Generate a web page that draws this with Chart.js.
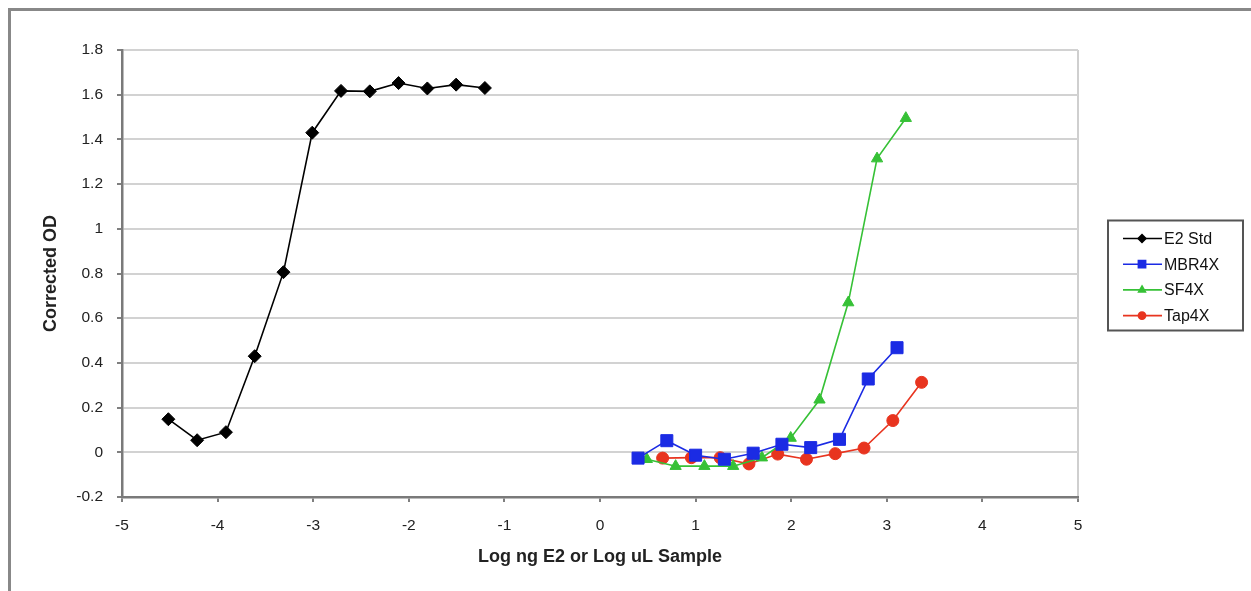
<!DOCTYPE html>
<html>
<head>
<meta charset="utf-8">
<script src="https://cdn.jsdelivr.net/npm/chart.js@4/dist/chart.umd.min.js"></script>
<style>
  html, body { margin: 0; padding: 0; background: #fff; }
  #wrap { position: relative; width: 1251px; height: 591px; }
  #frame {
    position: absolute; left: 8px; top: 8px; right: 0; bottom: 0;
    border-top: 3px solid #888; border-left: 3px solid #888;
    pointer-events: none;
  }
</style>
</head>
<body>
<div id="wrap">
  <canvas id="odChart" width="1251" height="591"></canvas>
  <div id="frame"></div>
</div>
<script>
// log dose / log volume for each series
const e2StdX = [-4.515, -4.214, -3.913, -3.612, -3.311, -3.010, -2.709, -2.408, -2.107, -1.806, -1.505, -1.204];
const e2StdY = [0.148, 0.054, 0.090, 0.430, 0.806, 1.430, 1.617, 1.615, 1.652, 1.628, 1.645, 1.630];

const mbrX = [0.398, 0.699, 1.000, 1.301, 1.602, 1.903, 2.204, 2.505, 2.806, 3.107];
const mbrY = [-0.026, 0.052, -0.013, -0.031, -0.004, 0.036, 0.021, 0.058, 0.328, 0.468];

const sfX = [0.490, 0.791, 1.092, 1.393, 1.694, 1.995, 2.296, 2.597, 2.898, 3.199];
const sfY = [-0.031, -0.062, -0.062, -0.062, -0.024, 0.064, 0.235, 0.670, 1.314, 1.495];

const tapX = [0.655, 0.956, 1.257, 1.558, 1.859, 2.160, 2.461, 2.762, 3.063, 3.364];
const tapY = [-0.026, -0.024, -0.024, -0.052, -0.008, -0.031, -0.006, 0.019, 0.142, 0.313];

const seriesNames = ['E2 Std', 'MBR4X', 'SF4X', 'Tap4X'];
const yTicks = [-0.2, 0, 0.2, 0.4, 0.6, 0.8, 1, 1.2, 1.4, 1.6, 1.8];
const xTicks = [-5, -4, -3, -2, -1, 0, 1, 2, 3, 4, 5];

const zip = (xs, ys) => xs.map((x, i) => ({ x: x, y: ys[i] }));

const FONT = '"Liberation Sans", Arial, sans-serif';

function series(label, xs, ys, color, style, radius) {
  return {
    label: label,
    data: zip(xs, ys),
    showLine: true,
    borderColor: color,
    backgroundColor: color,
    borderWidth: 1.6,
    pointStyle: style,
    pointRadius: radius,
    pointHoverRadius: radius,
    pointBorderWidth: 1,
  };
}

// boxed legend to the right of the plot, with line + marker samples
const boxLegend = {
  id: 'boxLegend',
  afterDraw(chart) {
    const ctx = chart.ctx;
    const area = chart.chartArea;
    const w = 135, h = 110;
    const left = area.right + 30;
    const top = (area.top + area.bottom) / 2 - h / 2 + 2;
    ctx.save();
    ctx.strokeStyle = '#555';
    ctx.lineWidth = 2;
    ctx.strokeRect(left, top, w, h);
    ctx.font = '16px ' + FONT;
    ctx.textBaseline = 'middle';
    chart.data.datasets.forEach((ds, i) => {
      const y = top + 18 + i * 25.7;
      ctx.strokeStyle = ds.borderColor;
      ctx.lineWidth = 1.6;
      ctx.beginPath();
      ctx.moveTo(left + 15, y);
      ctx.lineTo(left + 54, y);
      ctx.stroke();
      ctx.fillStyle = ds.backgroundColor;
      Chart.helpers.drawPoint(ctx, {
        pointStyle: ds.pointStyle,
        radius: ds.pointRadius * 0.6,
        rotation: 0,
        borderWidth: 1,
      }, left + 34, y);
      ctx.fillStyle = '#111';
      ctx.fillText(ds.label, left + 56, y + 1);
    });
    ctx.restore();
  }
};

const config = {
  type: 'scatter',
  data: {
    datasets: [
      series(seriesNames[0], e2StdX, e2StdY, '#000000', 'rectRot', 6.5),
      series(seriesNames[1], mbrX, mbrY, '#1b2be4', 'rect', 8.5),
      series(seriesNames[2], sfX, sfY, '#36c136', 'triangle', 6.5),
      series(seriesNames[3], tapX, tapY, '#e8341f', 'circle', 6),
    ]
  },
  options: {
    responsive: false,
    animation: false,
    layout: { padding: { left: 0, top: 50, right: 173, bottom: 0 } },
    plugins: {
      legend: { display: false },
      tooltip: { enabled: false },
    },
    scales: {
      x: {
        type: 'linear',
        min: xTicks[0],
        max: xTicks[xTicks.length - 1],
        afterBuildTicks: (scale) => { scale.ticks = xTicks.map(v => ({ value: v })); },
        afterFit: (scale) => { scale.height = 94; },
        border: { display: true, color: '#7a7a7a', width: 2.5 },
        grid: {
          drawOnChartArea: true,
          color: (c) => (c.tick && c.tick.value === 5 ? '#cfcfcf' : 'rgba(0,0,0,0)'),
          lineWidth: 2,
          drawTicks: true,
          tickLength: 5,
          tickColor: '#555',
          tickWidth: 1.5,
        },
        ticks: {
          padding: 14,
          color: '#222',
          font: { family: FONT, size: 15.5 },
          callback: (v) => String(v),
        },
        title: {
          display: true,
          text: 'Log ng E2 or Log uL Sample',
          color: '#222',
          font: { family: FONT, size: 18, weight: 'bold' },
          padding: { top: 0, bottom: 23 },
        },
      },
      y: {
        type: 'linear',
        min: yTicks[0],
        max: yTicks[yTicks.length - 1],
        afterBuildTicks: (scale) => { scale.ticks = yTicks.map(v => ({ value: v })); },
        afterFit: (scale) => { scale.width = 122; },
        border: { display: true, color: '#7a7a7a', width: 2.5 },
        grid: {
          color: '#d2d2d2',
          lineWidth: 2,
          drawTicks: true,
          tickLength: 5,
          tickColor: '#555',
          tickWidth: 1.5,
        },
        ticks: {
          padding: 14,
          color: '#222',
          font: { family: FONT, size: 15.5 },
          callback: (v) => String(Number(v.toFixed(1))),
        },
        title: {
          display: true,
          text: 'Corrected OD',
          color: '#222',
          font: { family: FONT, size: 18, weight: 'bold' },
          padding: { top: 40, bottom: 0 },
        },
      },
    },
  },
  plugins: [boxLegend],
};

const odChart = new Chart(document.getElementById('odChart'), config);
</script>
</body>
</html>
